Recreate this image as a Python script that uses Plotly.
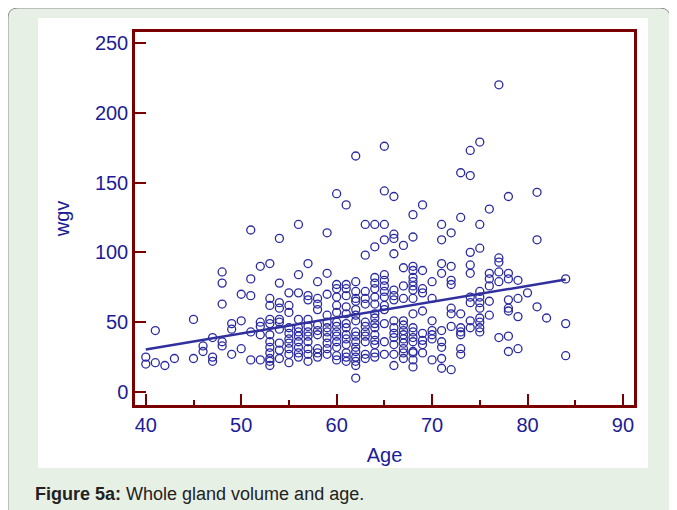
import plotly.graph_objects as go

# Dados: idade (anos) e volume total da glândula (wgv)
idade_40_50 = [40, 40, 41, 41, 42, 43, 45, 45, 46, 46, 47, 47, 47,
               48, 48, 48, 48, 48, 49, 49, 49, 50, 50, 50]
wgv_40_50 = [25, 20, 44, 21, 19, 24, 52, 24, 33, 29, 39, 25, 22,
             86, 78, 63, 36, 33, 49, 45, 27, 70, 51, 31]

idade_51_59 = ([51] * 5 + [52] * 5 + [53] * 12 + [54] * 10 + [55] * 10 +
               [56] * 11 + [57] * 11 + [58] * 10 + [59] * 11)
wgv_51_59 = [116, 81, 69, 43, 23,
             90, 50, 47, 41, 23,
             92, 67, 62, 52, 49, 41, 36, 32, 28, 24, 22, 19,
             110, 78, 64, 60, 52, 50, 45, 35, 30, 24,
             71, 62, 57, 46, 42, 38, 35, 31, 27, 21,
             120, 84, 71, 52, 46, 43, 40, 36, 32, 28, 25,
             92, 69, 66, 52, 47, 43, 40, 36, 31, 27, 22,
             79, 67, 63, 59, 48, 44, 41, 31, 28, 25,
             114, 85, 70, 55, 50, 46, 43, 39, 35, 31, 27]

idade_60_69 = ([60] * 14 + [61] * 14 + [62] * 17 + [63] * 12 + [64] * 16 +
               [65] * 14 + [66] * 14 + [67] * 13 + [68] * 18 + [69] * 9)
wgv_60_69 = [142, 77, 74, 68, 62, 57, 50, 47, 43, 40, 36, 32, 26, 23,
             134, 77, 74, 69, 61, 56, 49, 46, 41, 38, 34, 28, 25, 22,
             169, 79, 72, 67, 65, 59, 55, 51, 43, 40, 36, 32, 29, 25, 22, 19, 10,
             120, 98, 72, 67, 63, 50, 47, 43, 40, 36, 27, 24,
             120, 104, 82, 78, 74, 68, 63, 56, 53, 49, 46, 41, 37, 34, 28, 25,
             176, 144, 120, 109, 84, 80, 76, 72, 68, 62, 59, 49, 36, 27,
             140, 113, 110, 99, 73, 69, 66, 51, 46, 42, 39, 34, 27, 19,
             105, 89, 76, 67, 51, 48, 44, 41, 38, 35, 31, 28, 24,
             127, 111, 90, 87, 82, 79, 76, 73, 67, 56, 46, 43, 39, 36, 29, 28, 23, 18,
             134, 87, 74, 71, 58, 42, 37, 34, 28]

idade_70_84 = ([70] * 7 + [71] * 9 + [72] * 8 + [73] * 8 + [74] * 9 +
               [75] * 11 + [76] * 6 + [77] * 6 + [78] * 8 + [79] * 4 +
               [80] * 1 + [81] * 3 + [82] * 1 + [84] * 3)
wgv_70_84 = [79, 67, 51, 44, 41, 38, 23,
             120, 109, 92, 85, 44, 36, 32, 24, 17,
             114, 90, 80, 77, 60, 56, 47, 16,
             157, 125, 56, 46, 43, 41, 31, 27,
             173, 155, 100, 91, 85, 68, 64, 51, 46,
             179, 120, 103, 72, 68, 64, 60, 53, 50, 46, 43,
             131, 85, 81, 76, 65, 55,
             220, 96, 93, 86, 79, 39,
             140, 85, 81, 66, 60, 58, 40, 29,
             80, 67, 54, 31,
             71,
             143, 109, 61,
             53,
             81, 49, 26]

idade = idade_40_50 + idade_51_59 + idade_60_69 + idade_70_84
wgv = wgv_40_50 + wgv_51_59 + wgv_60_69 + wgv_70_84

# Reta de regressão (extremos)
reta_idade = [40, 84]
reta_wgv = [30.5, 80.5]

x_ticks = [40, 50, 60, 70, 80, 90]
y_ticks = [0, 50, 100, 150, 200, 250]

azul = '#1c1c96'
vinho = '#7a0000'
verde = '#e7f0e5'
fonte = 'Liberation Sans, Arial, sans-serif'

fig = go.Figure()
fig.add_trace(go.Scatter(x=idade, y=wgv, mode='markers',
                         marker=dict(symbol='circle-open', size=8, color='#2a2aa0',
                                     line=dict(width=1.3, color='#2a2aa0')),
                         showlegend=False))
fig.add_trace(go.Scatter(x=reta_idade, y=reta_wgv, mode='lines',
                         line=dict(color='#2f2f9e', width=2.5), showlegend=False))

# A página tem margem de 8 px: a figura começa em (8, 8) da janela
OFF = 8
L, T, W, H = 135 - OFF, 32 - OFF, 499, 373
FW, FH = 677 - OFF, 510 - OFF


def px(x):  # coordenada x da janela -> paper
    return (x - OFF - L) / W


def py(y):  # coordenada y da janela -> paper
    return (T + H - (y - OFF)) / H


r = 10
borda = ('M {},{} L {},{} Q {},{} {},{} L {},{} Q {},{} {},{} L {},{}'.format(
    px(8), py(530), px(8), py(8 + r), px(8), py(8), px(8 + r), py(8),
    px(670 - r), py(8), px(670), py(8), px(670), py(8 + r), px(670), py(530)))

fig.update_layout(
    width=FW, height=FH,
    margin=dict(l=L, r=FW - L - W, t=T, b=FH - T - H),
    paper_bgcolor='white',
    plot_bgcolor='white',
    font=dict(family=fonte, color=azul),
    shapes=[
        dict(type='path', path=borda + ' Z', xref='paper', yref='paper',
             fillcolor=verde, line=dict(color='#8c8c8c', width=1), layer='below'),
        dict(type='rect', xref='paper', yref='paper', x0=px(38), x1=px(648),
             y0=py(468), y1=py(18), fillcolor='white', line=dict(width=0), layer='below'),
    ],
    annotations=[dict(
        x=px(33), y=py(494), xref='paper', yref='paper', xanchor='left', yanchor='middle',
        text='<b>Figure 5a:</b> Whole gland volume and age.', showarrow=False,
        font=dict(family=fonte, size=18, color='#222222'))],
)

fig.update_xaxes(range=[38.87, 91.16], tickvals=x_ticks, ticks='inside', ticklen=11,
                 tickwidth=2, tickcolor=vinho, showline=True, linecolor=vinho, linewidth=2.5,
                 mirror=True, showgrid=False, zeroline=False,
                 minor=dict(dtick=5, ticks='inside', ticklen=5, tickwidth=2, tickcolor=vinho),
                 tickfont=dict(size=20, color=azul),
                 title=dict(text='Age', font=dict(size=20, color=azul), standoff=14))
fig.update_yaxes(range=[-9.3, 257.8], tickvals=y_ticks, ticks='inside', ticklen=11,
                 tickwidth=2, tickcolor=vinho, showline=True, linecolor=vinho, linewidth=2.5,
                 mirror=True, showgrid=False, zeroline=False,
                 tickfont=dict(size=20, color=azul),
                 title=dict(text='wgv', font=dict(size=20, color=azul), standoff=20))

fig.write_html('out.html')
